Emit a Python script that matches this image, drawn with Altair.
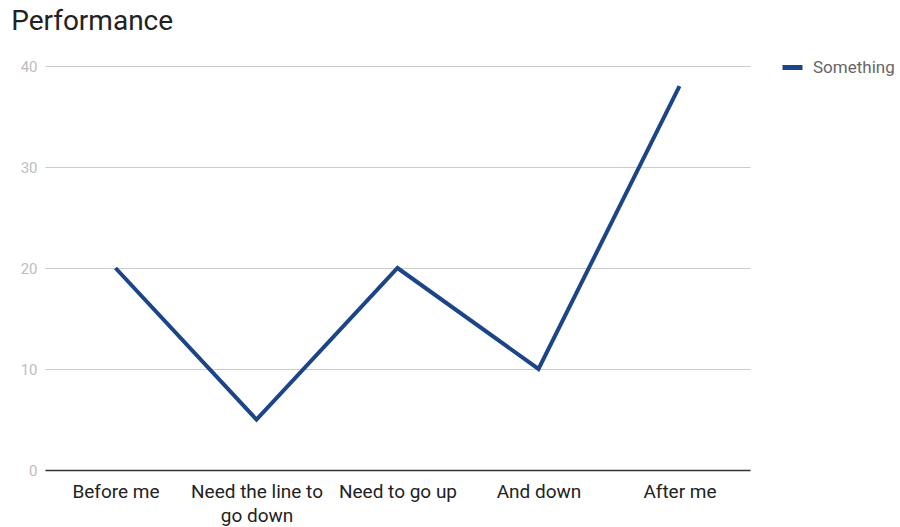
import altair as alt
import pandas as pd

categories = ["Before me", "Need the line to go down", "Need to go up", "And down", "After me"]
values = [20, 5, 20, 10, 38]
series = ["Something"] * 5

df = pd.DataFrame({"cat": categories, "value": values, "series": series, "order": list(range(5))})

chart = alt.Chart(df).mark_line(strokeWidth=4, strokeJoin="miter").encode(
    x=alt.X("cat:N", sort=categories, title=None,
            scale=alt.Scale(paddingInner=0, paddingOuter=0.5),
            axis=alt.Axis(labelAngle=0, labelFont="Roboto", labelFontSize=19, labelColor="#222222",
                          labelPadding=12, ticks=False, domainColor="#333333", domainWidth=1.5,
                          labelLineHeight=24,
                          labelExpr="datum.value == 'Need the line to go down' ? ['Need the line to', 'go down'] : datum.label")),
    y=alt.Y("value:Q", title=None, scale=alt.Scale(domain=[0, 40]),
            axis=alt.Axis(values=[0, 10, 20, 30, 40], domain=False, ticks=False, labelFont="Roboto",
                          labelFontSize=15, labelColor="#bdbdbd", labelPadding=8,
                          gridColor="#cccccc", gridWidth=1)),
    color=alt.Color("series:N", scale=alt.Scale(range=["#1c4587"]),
                    legend=alt.Legend(title=None, orient="none", legendX=735, legendY=-11,
                                      symbolType="stroke", symbolStrokeWidth=5, symbolSize=400,
                                      labelFont="Roboto", labelFontSize=17, labelColor="#666666",
                                      labelOffset=8)),
    order="order:Q",
).properties(
    width=705, height=404,
    title=alt.TitleParams("Performance", anchor="start", font="Roboto", fontSize=28, fontWeight="normal",
                          color="#222222", dx=-9, offset=19),
    autosize=alt.AutoSizeParams(type="none"),
    padding={"left": 45, "top": 66, "right": 150, "bottom": 57},
).configure_view(stroke=None)

chart.save("out.html", embed_options={"renderer": "svg", "actions": False})
